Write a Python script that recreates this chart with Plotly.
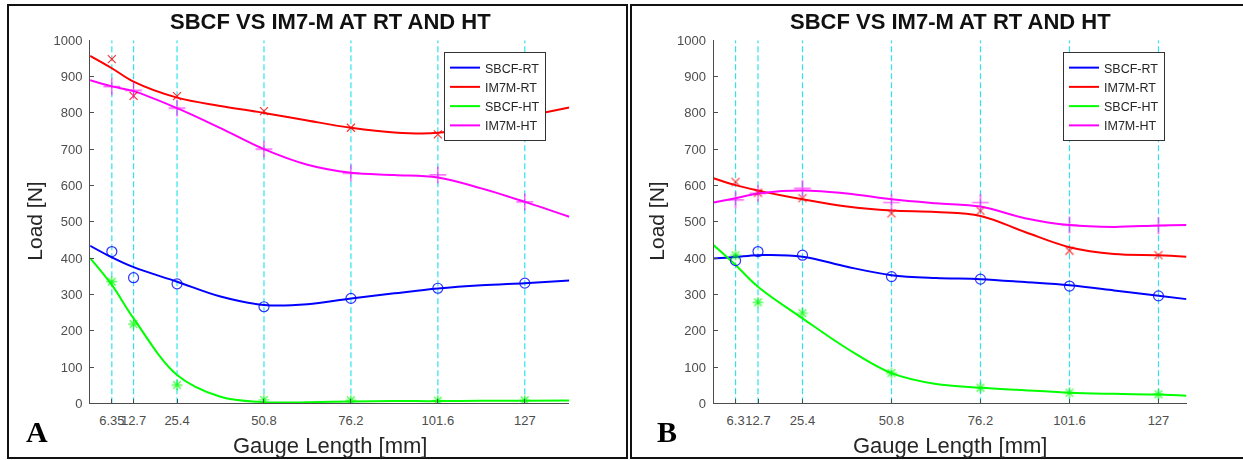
import plotly.graph_objects as go

W, H = 1243, 460

# ---------------- data ----------------
gauge_a = [6.35, 12.7, 25.4, 50.8, 76.2, 101.6, 127]
gauge_a_labels = ["6.35", "12.7", "25.4", "50.8", "76.2", "101.6", "127"]
gauge_b = [6.3, 12.7, 25.4, 50.8, 76.2, 101.6, 127]
gauge_b_labels = ["6.3", "12.7", "25.4", "50.8", "76.2", "101.6", "127"]

y_ticks = [0, 100, 200, 300, 400, 500, 600, 700, 800, 900, 1000]
series_names = ["SBCF-RT", "IM7M-RT", "SBCF-HT", "IM7M-HT"]

# measured points, panel A
a_sbcf_rt = [418, 346, 329, 266, 289, 317, 331]
a_im7m_rt = [948, 847, 846, 805, 759, 741, 785]
a_sbcf_ht = [335, 218, 50, 9, 8, 7, 8]
a_im7m_ht = [872, 862, 813, 700, 634, 629, 555]

# measured points, panel B
b_sbcf_rt = [393, 418, 408, 349, 342, 323, 296]
b_im7m_rt = [610, 580, 565, 523, 530, 420, 408]
b_sbcf_ht = [408, 278, 248, 83, 43, 29, 25]
b_im7m_ht = [560, 578, 592, 553, 553, 491, 489]

# fitted curves, panel A
fit_x_a = [0, 6.35, 12.7, 25.4, 38.1, 50.8, 63.5, 76.2, 88.9, 101.6, 114.3, 127, 140]
a_fit_sbcf_rt = [434, 402, 375, 335, 294, 271, 273, 289, 303, 316, 325, 331, 338]
a_fit_im7m_rt = [957, 923, 886, 842, 819, 800, 779, 759, 746, 745, 767, 790, 815]
a_fit_sbcf_ht = [400, 326, 234, 78, 18, 3, 3, 5, 6, 6, 7, 7, 8]
a_fit_im7m_ht = [890, 873, 860, 813, 758, 700, 657, 635, 629, 622, 592, 555, 514]

# fitted curves, panel B
fit_x_b = [0, 6.3, 12.7, 25.4, 38.1, 50.8, 63.5, 76.2, 88.9, 101.6, 114.3, 127, 135]
b_fit_sbcf_rt = [399, 403, 408, 404, 376, 353, 345, 342, 334, 325, 311, 296, 287]
b_fit_im7m_rt = [620, 601, 586, 562, 542, 531, 527, 516, 472, 430, 411, 408, 404]
b_fit_sbcf_ht = [436, 381, 321, 234, 151, 83, 53, 43, 36, 29, 26, 24, 21]
b_fit_im7m_ht = [553, 565, 578, 586, 578, 562, 551, 542, 510, 491, 486, 490, 491]

# ---------------- styling ----------------
colors = ["#0000ff", "#ff0000", "#00ff00", "#ff00ff"]
symbols = ["circle-open", "x-thin-open", "asterisk-open", "cross-thin-open"]
msizes = [10, 8, 9, 12]
FONT = "Liberation Sans, Arial, sans-serif"
AX = "#4d4d4d"


def px_x(p):
    return p / W


def px_y(p):
    return 1 - p / H


fig = go.Figure()

panels = [
    dict(xa="x", ya="y", leg="legend", gx=gauge_a,
         pts=[a_sbcf_rt, a_im7m_rt, a_sbcf_ht, a_im7m_ht],
         fx=fit_x_a, fits=[a_fit_sbcf_rt, a_fit_im7m_rt, a_fit_sbcf_ht, a_fit_im7m_ht]),
    dict(xa="x2", ya="y2", leg="legend2", gx=gauge_b,
         pts=[b_sbcf_rt, b_im7m_rt, b_sbcf_ht, b_im7m_ht],
         fx=fit_x_b, fits=[b_fit_sbcf_rt, b_fit_im7m_rt, b_fit_sbcf_ht, b_fit_im7m_ht]),
]

for p in panels:
    for i, name in enumerate(series_names):
        fig.add_trace(go.Scatter(
            x=p["fx"], y=p["fits"][i], mode="lines", name=name,
            line=dict(color=colors[i], width=2, shape="spline", smoothing=1.0),
            xaxis=p["xa"], yaxis=p["ya"], legend=p["leg"], showlegend=True,
            hoverinfo="skip"))
    for i, name in enumerate(series_names):
        fig.add_trace(go.Scatter(
            x=p["gx"], y=p["pts"][i], mode="markers", name=name,
            marker=dict(color=colors[i], symbol=symbols[i], size=msizes[i],
                        line=dict(color=colors[i], width=1.2)),
            opacity=0.8,
            xaxis=p["xa"], yaxis=p["ya"], showlegend=False, hoverinfo="skip"))
    for gx in p["gx"]:
        fig.add_shape(type="line", xref=p["xa"], yref=p["ya"],
                      x0=gx, x1=gx, y0=0, y1=1000, layer="below",
                      line=dict(color="#2fe3f0", width=1.2, dash="6px,3px"))

dom_y = [px_y(403.3), px_y(40.3)]
axis_common = dict(showline=True, linecolor=AX, linewidth=1, showgrid=False,
                   zeroline=False, ticks="inside", ticklen=4, tickcolor=AX,
                   tickfont=dict(family=FONT, size=13, color=AX), mirror=False,
                   automargin=False, tickangle=0)

fig.update_layout(
    template="none",
    width=W, height=H, margin=dict(l=0, r=0, t=0, b=0, pad=0), autosize=False,
    paper_bgcolor="white", plot_bgcolor="white",
    xaxis=dict(domain=[px_x(90.1), px_x(569.3)], range=[0, 140], anchor="y",
               tickvals=gauge_a, ticktext=gauge_a_labels, ticklabelstandoff=5,
               **axis_common),
    yaxis=dict(domain=dom_y, range=[0, 1000], anchor="x", tickvals=y_ticks,
               ticklabelstandoff=4, **axis_common),
    xaxis2=dict(domain=[px_x(713.5), px_x(1186.5)], range=[0, 135], anchor="y2",
                tickvals=gauge_b, ticktext=gauge_b_labels, ticklabelstandoff=5,
                **axis_common),
    yaxis2=dict(domain=dom_y, range=[0, 1000], anchor="x2", tickvals=y_ticks,
                ticklabelstandoff=4, **axis_common),
    legend=dict(x=px_x(444), y=px_y(52), xanchor="left", yanchor="top",
                bordercolor="#333333", borderwidth=1, bgcolor="white",
                font=dict(family=FONT, size=12.5, color="#262626"),
                tracegroupgap=0, itemwidth=30),
    legend2=dict(x=px_x(1063), y=px_y(52), xanchor="left", yanchor="top",
                 bordercolor="#333333", borderwidth=1, bgcolor="white",
                 font=dict(family=FONT, size=12.5, color="#262626"),
                 tracegroupgap=0, itemwidth=30),
)

# panel borders
for x0, x1 in [(8, 627), (631, 1246)]:
    fig.add_shape(type="rect", xref="paper", yref="paper",
                  x0=px_x(x0), x1=px_x(x1), y0=px_y(458), y1=px_y(5),
                  line=dict(color="#111111", width=2), layer="above")

# titles, axis labels, panel letters
for cx, cy_lab, letter, lx in [(330, 221.7, "A", 37), (950, 221.7, "B", 667)]:
    fig.add_annotation(text="<b>SBCF VS IM7-M AT RT AND HT</b>", xref="paper", yref="paper",
                       x=px_x(cx), y=px_y(22), showarrow=False,
                       font=dict(family=FONT, size=22, color="#111111"),
                       xanchor="center", yanchor="middle")
    fig.add_annotation(text="Gauge Length [mm]", xref="paper", yref="paper",
                       x=px_x(cx), y=px_y(445), showarrow=False,
                       font=dict(family=FONT, size=22, color="#262626"),
                       xanchor="center", yanchor="middle")
    fig.add_annotation(text=letter, xref="paper", yref="paper",
                       x=px_x(lx), y=px_y(431), showarrow=False,
                       font=dict(family="Liberation Serif, Times New Roman, serif",
                                 size=30, color="#000000", weight="bold"),
                       xanchor="center", yanchor="middle")

for lx in [35, 657]:
    fig.add_annotation(text="Load [N]", xref="paper", yref="paper",
                       x=px_x(lx), y=px_y(221.7), showarrow=False, textangle=-90,
                       font=dict(family=FONT, size=21, color="#262626"),
                       xanchor="center", yanchor="middle")

fig.write_html("out.html")
